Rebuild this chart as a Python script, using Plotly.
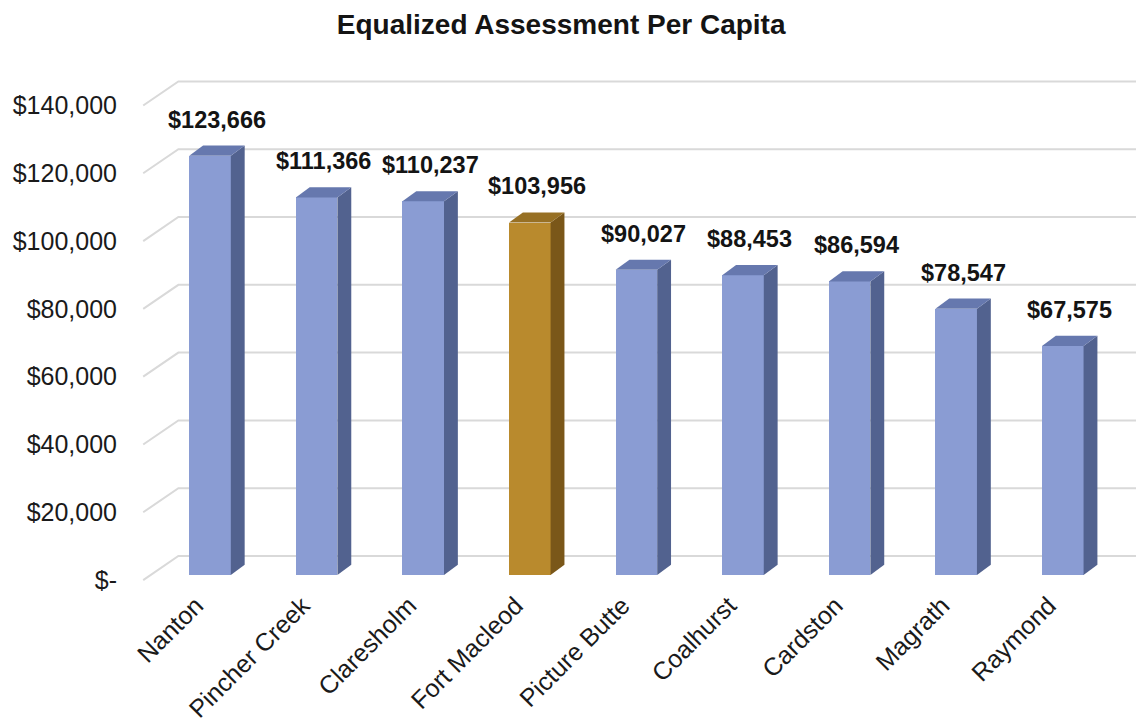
import plotly.graph_objects as go

# ---- data ----
towns = ["Nanton", "Pincher Creek", "Claresholm", "Fort Macleod", "Picture Butte",
         "Coalhurst", "Cardston", "Magrath", "Raymond"]
values = [123666, 111366, 110237, 103956, 90027, 88453, 86594, 78547, 67575]
highlight = "Fort Macleod"
tick_values = [0, 20000, 40000, 60000, 80000, 100000, 120000, 140000]
tick_labels = ["$-", "$20,000", "$40,000", "$60,000", "$80,000", "$100,000", "$120,000", "$140,000"]
title_text = "Equalized Assessment Per Capita"

# ---- style ----
FONT = "Liberation Sans, Arial, sans-serif"
BLUE = {"front": "#8A9CD3", "side": "#52628F", "top": "#6678AE"}
GOLD = {"front": "#B98A2D", "side": "#7A5719", "top": "#977024"}
GRID = "#D9D9D9"

bar_w = 0.39          # bar width in category units
depth_x = 0.13        # 3D depth offset, category units
depth_y = 3000        # 3D depth offset, value units
wall_x = 0.33         # back wall offset (category units)
wall_y = 7100         # back wall offset (value units)
front_y = -1500       # front edge offset of floor/grid (value units)

x_idx = list(range(len(towns)))
x_min, x_max = -0.657, 8.687

fig = go.Figure()

# gridlines on the back wall (with the diagonal side-wall segment), below everything
grid_left = x_min + 0.03
for v in tick_values:
    fig.add_shape(
        type="path",
        path=f"M {grid_left},{v + front_y} L {grid_left + wall_x},{v + front_y + wall_y} L {x_max + 1},{v + front_y + wall_y}",
        xref="x", yref="y", layer="below",
        line=dict(color=GRID, width=2),
    )

# front faces
fig.add_trace(go.Bar(
    x=x_idx, y=values, width=bar_w,
    marker=dict(color=[GOLD["front"] if t == highlight else BLUE["front"] for t in towns],
                line=dict(width=0)),
    hoverinfo="skip", showlegend=False,
))

# side and top faces
for i, (t, v) in enumerate(zip(towns, values)):
    pal = GOLD if t == highlight else BLUE
    xl, xr = i - bar_w / 2, i + bar_w / 2
    fig.add_trace(go.Scatter(
        x=[xr, xr + depth_x, xr + depth_x, xr, xr],
        y=[0, depth_y, v + depth_y, v, 0],
        mode="lines", fill="toself", fillcolor=pal["side"],
        line=dict(width=0, color=pal["side"]), hoverinfo="skip", showlegend=False,
    ))
    fig.add_trace(go.Scatter(
        x=[xl, xl + depth_x, xr + depth_x, xr, xl],
        y=[v, v + depth_y, v + depth_y, v, v],
        mode="lines", fill="toself", fillcolor=pal["top"],
        line=dict(width=0, color=pal["top"]), hoverinfo="skip", showlegend=False,
    ))

# value labels
for i, v in enumerate(values):
    fig.add_annotation(
        x=i + depth_x / 2, y=v + depth_y, xref="x", yref="y",
        text=f"<b>${v:,}</b>", showarrow=False, yanchor="bottom", yshift=11,
        font=dict(family=FONT, size=23.5, color="#141414"),
    )

fig.update_layout(
    width=1136, height=725,
    margin=dict(l=140, r=0, t=60, b=125, autoexpand=False),
    paper_bgcolor="white", plot_bgcolor="white",
    title=dict(text=f"<b>{title_text}</b>", x=0.494, xanchor="center",
               y=0.967, yanchor="middle",
               font=dict(family=FONT, size=28, color="#141414")),
    bargap=0,
)
fig.update_xaxes(
    range=[x_min, x_max], tickvals=x_idx, ticktext=towns, tickangle=-45,
    showgrid=False, zeroline=False, showline=False, ticks="", automargin=False,
    ticklabelstandoff=-15, ticklabelshift=-14,
    tickfont=dict(family=FONT, size=25, color="#1a1a1a"),
)
fig.update_yaxes(
    range=[-7375, 151917], tickvals=tick_values, ticktext=tick_labels,
    showgrid=False, zeroline=False, showline=False, ticks="", automargin=False,
    ticklabelstandoff=22, ticklabelshift=5,
    tickfont=dict(family=FONT, size=25, color="#1a1a1a"),
)

fig.write_html("out.html")
